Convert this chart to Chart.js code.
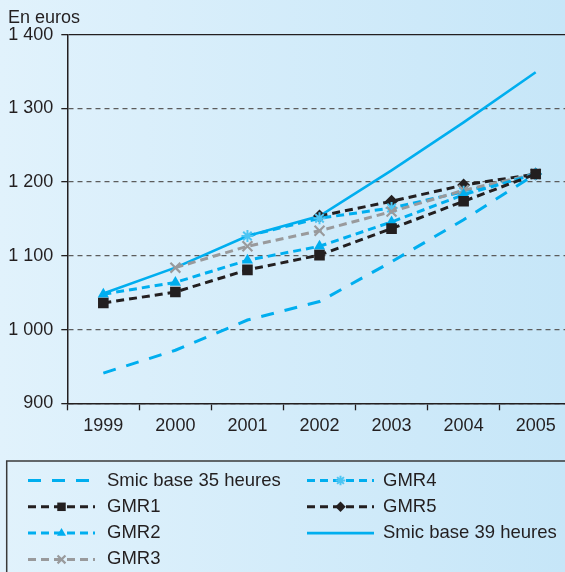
<!DOCTYPE html>
<html>
<head>
<meta charset="utf-8">
<script src="https://cdn.jsdelivr.net/npm/chart.js@4.4.0/dist/chart.umd.min.js"></script>
<style>
  html, body { margin: 0; padding: 0; width: 565px; height: 572px; overflow: hidden; }
  body { background: linear-gradient(to right, #e1f2fc 0%, #c6e6f8 100%); }
  canvas { display: block; }
</style>
</head>
<body>
<canvas id="myChart" width="576" height="572" style="width:576px;height:572px"></canvas>
<script>
// data (euros)
const years = ['1999', '2000', '2001', '2002', '2003', '2004', '2005'];
const smic35 = [941, 972, 1013, 1038, 1092, 1149, 1211];
const gmr1 = [1036, 1051, 1081, 1101, 1137, 1174, 1211];
const gmr2 = [1048, 1064, 1094, 1113, 1146, 1183, 1211];
const gmr3 = [null, 1084, 1113, 1134, 1160, 1189, 1211];
const gmr4 = [null, null, 1127, 1151, 1165, 1187, 1211];
const gmr5 = [null, null, null, 1154, 1174, 1196, 1211];
const smic39 = [1049, 1084, 1127, 1154, 1216, 1281, 1349];
const yTicks = [900, 1000, 1100, 1200, 1300, 1400];
const yTickLabels = ['900', '1 000', '1 100', '1 200', '1 300', '1 400'];

const black = '#231f20';
const cyan = '#00aeef';
const lightCyan = '#4cc5f3';
const gray = '#999a9c';
const fontFamily = '"Liberation Sans", Arial, Helvetica, sans-serif';

// legend drawn as a framed box, two columns
const boxLegend = {
    id: 'boxLegend',
    afterDraw(chart) {
        const ctx = chart.ctx;
        ctx.save();
        ctx.strokeStyle = '#3a3a3a';
        ctx.lineWidth = 1.5;
        ctx.strokeRect(6.7, 461, 700, 200);
        chart.data.datasets.forEach((ds, i) => {
            const col = i < 4 ? 0 : 1;
            const row = col ? i - 4 : i;
            const x0 = col ? 307 : 28;
            const x1 = x0 + 67;
            const y = 480.5 + row * 26.3;
            ctx.setLineDash(ds.borderDash || []);
            ctx.strokeStyle = ds.borderColor;
            ctx.lineWidth = ds.borderWidth;
            ctx.beginPath();
            ctx.moveTo(x0, y);
            ctx.lineTo(x1, y);
            ctx.stroke();
            if (ds.pointRadius) {
                ctx.setLineDash([]);
                ctx.fillStyle = ds.pointBackgroundColor;
                ctx.strokeStyle = ds.pointBorderColor;
                ctx.lineWidth = ds.pointBorderWidth;
                Chart.helpers.drawPoint(ctx, {
                    pointStyle: ds.pointStyle, rotation: 0,
                    radius: ds.pointRadius * 0.8, borderWidth: ds.pointBorderWidth
                }, (x0 + x1) / 2, y);
            }
            ctx.fillStyle = black;
            ctx.font = '18.5px ' + fontFamily;
            ctx.textBaseline = 'middle';
            ctx.fillText(ds.label, col ? 383 : 107, y);
        });
        ctx.restore();
    }
};

const ctx = document.getElementById('myChart');
const myChart = new Chart(ctx, {
    type: 'line',
    data: {
        labels: years,
        datasets: [
            {
                label: 'Smic base 35 heures', data: smic35,
                borderColor: cyan, borderWidth: 3, borderDash: [13, 11], pointRadius: 0
            },
            {
                label: 'GMR1', data: gmr1,
                borderColor: black, borderWidth: 3, borderDash: [8, 5],
                pointStyle: 'rect', pointRadius: 7.5,
                pointBackgroundColor: black, pointBorderColor: black, pointBorderWidth: 0
            },
            {
                label: 'GMR2', data: gmr2,
                borderColor: cyan, borderWidth: 3, borderDash: [8, 5],
                pointStyle: 'triangle', pointRadius: 6.5,
                pointBackgroundColor: cyan, pointBorderColor: cyan, pointBorderWidth: 0
            },
            {
                label: 'GMR3', data: gmr3,
                borderColor: gray, borderWidth: 3, borderDash: [8, 5],
                pointStyle: 'crossRot', pointRadius: 7,
                pointBackgroundColor: gray, pointBorderColor: gray, pointBorderWidth: 2.2
            },
            {
                label: 'GMR4', data: gmr4,
                borderColor: cyan, borderWidth: 3, borderDash: [8, 5],
                pointStyle: 'star', pointRadius: 6,
                pointBackgroundColor: lightCyan, pointBorderColor: lightCyan, pointBorderWidth: 2
            },
            {
                label: 'GMR5', data: gmr5,
                borderColor: black, borderWidth: 3, borderDash: [8, 5],
                pointStyle: 'rectRot', pointRadius: 6.5,
                pointBackgroundColor: black, pointBorderColor: black, pointBorderWidth: 0
            },
            {
                label: 'Smic base 39 heures', data: smic39,
                borderColor: cyan, borderWidth: 2.6, pointRadius: 0
            }
        ]
    },
    options: {
        responsive: false,
        animation: false,
        events: [],
        layout: { autoPadding: false, padding: { left: 8, right: 4.3, top: 0, bottom: 128.7 } },
        elements: { line: { tension: 0 } },
        plugins: {
            legend: { display: false },
            tooltip: { enabled: false },
            title: {
                display: true, text: 'En euros', align: 'start', color: black,
                font: { size: 18, weight: 'normal', family: fontFamily },
                padding: { top: 7.6, bottom: 5.5 }
            }
        },
        scales: {
            x: {
                offset: true,
                grid: {
                    offset: true, drawOnChartArea: false, tickLength: 7,
                    tickColor: black, tickWidth: 1.3, color: black
                },
                border: { color: black, width: 1.5 },
                ticks: {
                    color: black, padding: 5, maxRotation: 0, autoSkip: false,
                    font: { size: 18, family: fontFamily }
                },
                afterFit: scale => { scale.height = 40; }
            },
            y: {
                min: 900, max: 1400,
                afterBuildTicks: scale => { scale.ticks = yTicks.map(v => ({ value: v })); },
                ticks: {
                    color: black, padding: 8,
                    font: { size: 18, family: fontFamily },
                    callback: v => yTickLabels[yTicks.indexOf(v)]
                },
                grid: {
                    color: c => (c.tick && c.tick.value === 1400) ? black : '#5c5c5c',
                    lineWidth: 1.3, tickColor: black, tickLength: 6, tickWidth: 1.3, tickBorderDash: []
                },
                border: {
                    color: black, width: 1.5,
                    dash: c => (c.tick && c.tick.value === 1400) ? [] : [5, 4]
                },
                afterFit: scale => { scale.width = 59.3; }
            }
        }
    },
    plugins: [boxLegend]
});
</script>
</body>
</html>
